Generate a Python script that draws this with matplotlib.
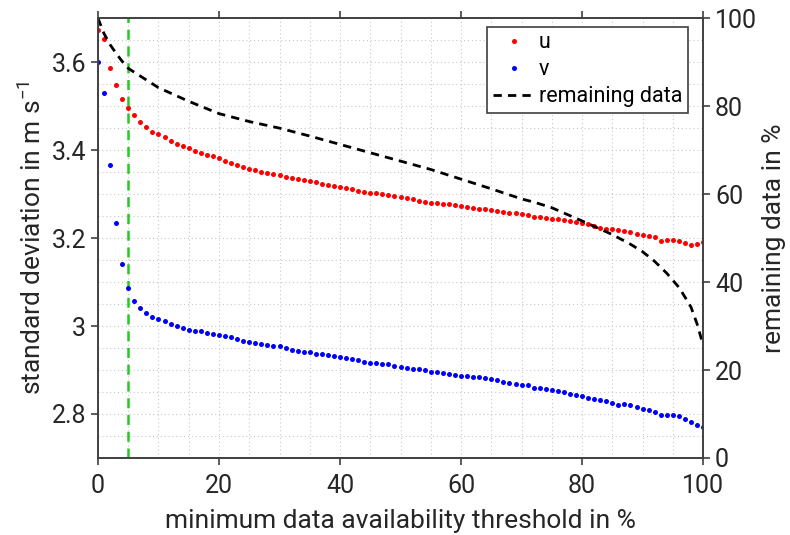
import numpy as np
import matplotlib
matplotlib.use('Agg')
import matplotlib.pyplot as plt
from matplotlib.ticker import MultipleLocator

plt.rcParams['font.family'] = ['Roboto', 'DejaVu Sans']
plt.rcParams['mathtext.default'] = 'regular'

# threshold in %
thr = np.arange(0, 101)

# std of u (red)
u_std = [3.673, 3.652, 3.587, 3.547, 3.517, 3.495, 3.480, 3.464, 3.452, 3.442,
         3.436, 3.429, 3.421, 3.415, 3.410, 3.405, 3.399, 3.394, 3.390, 3.386,
         3.383, 3.375, 3.371, 3.367, 3.362, 3.358, 3.355, 3.351, 3.347, 3.345,
         3.344, 3.339, 3.336, 3.335, 3.333, 3.329, 3.327, 3.323, 3.320, 3.318,
         3.316, 3.313, 3.311, 3.308, 3.304, 3.302, 3.302, 3.300, 3.298, 3.296,
         3.293, 3.292, 3.289, 3.285, 3.283, 3.280, 3.279, 3.278, 3.277, 3.276,
         3.273, 3.271, 3.268, 3.267, 3.266, 3.264, 3.262, 3.260, 3.258, 3.256,
         3.255, 3.252, 3.248, 3.248, 3.246, 3.243, 3.243, 3.241, 3.238, 3.236,
         3.234, 3.231, 3.227, 3.223, 3.221, 3.220, 3.218, 3.217, 3.213, 3.210,
         3.207, 3.205, 3.202, 3.194, 3.195, 3.195, 3.193, 3.189, 3.184, 3.186,
         3.192]

# std of v (blue)
v_std = [3.600, 3.529, 3.366, 3.235, 3.142, 3.087, 3.058, 3.042, 3.029, 3.021,
         3.016, 3.011, 3.005, 3.000, 2.995, 2.992, 2.989, 2.988, 2.985, 2.981,
         2.979, 2.977, 2.974, 2.970, 2.967, 2.963, 2.962, 2.960, 2.957, 2.955,
         2.954, 2.949, 2.946, 2.944, 2.942, 2.941, 2.937, 2.936, 2.935, 2.931,
         2.930, 2.928, 2.924, 2.923, 2.919, 2.917, 2.916, 2.913, 2.913, 2.910,
         2.906, 2.905, 2.903, 2.902, 2.899, 2.895, 2.895, 2.894, 2.892, 2.889,
         2.887, 2.886, 2.884, 2.883, 2.881, 2.880, 2.877, 2.873, 2.870, 2.869,
         2.866, 2.865, 2.859, 2.859, 2.856, 2.854, 2.853, 2.849, 2.846, 2.843,
         2.840, 2.837, 2.834, 2.831, 2.829, 2.826, 2.820, 2.822, 2.820, 2.816,
         2.812, 2.808, 2.804, 2.797, 2.797, 2.797, 2.795, 2.789, 2.782, 2.776,
         2.770]

# remaining data in %
rem_x = [0, 1, 2, 3, 4, 5, 10, 15, 20, 25, 30, 35, 40, 45, 50, 55, 60, 65,
         70, 72, 75, 80, 85, 88, 90, 92, 94, 96, 97, 98, 99, 100]
rem_y = [100, 96.5, 94.0, 92.0, 90.2, 88.6, 84.2, 81.1, 78.3, 76.5, 75.0,
         73.2, 71.3, 69.4, 67.5, 65.6, 63.4, 61.2, 58.9, 58.2, 56.9, 53.9,
         50.8, 48.6, 46.9, 44.7, 42.0, 38.8, 36.6, 34.3, 30.5, 25.7]

chosen = 5

fig = plt.figure(figsize=(7.9, 5.35), dpi=100)
ax = fig.add_axes([0.124, 0.144, 0.766, 0.822])

fs = 19
spc = '#404040'
tc = '#262626'

ax.plot([chosen, chosen], [2.7, 3.7], color='#1fcc1f', lw=1.8, dashes=(4, 2.7))
l1, = ax.plot(thr, u_std, 'o', color='#ff0000', ms=3.6, mew=0, label='u')
l2, = ax.plot(thr, v_std, 'o', color='#0000ff', ms=3.6, mew=0, label='v')
ax.set_xlim(0, 100)
ax.set_ylim(2.7, 3.7)
ax.xaxis.set_major_locator(MultipleLocator(20))
ax.xaxis.set_minor_locator(MultipleLocator(5))
ax.yaxis.set_major_locator(MultipleLocator(0.2))
ax.yaxis.set_minor_locator(MultipleLocator(0.05))
ax.yaxis.set_major_formatter(plt.FuncFormatter(lambda v, p: ('%.1f' % v).rstrip('0').rstrip('.')))
ax.grid(True, which='both', color='#c8c8c8', lw=0.8, dashes=(1, 2.5))
ax.tick_params(which='major', direction='out', length=5, width=1.2, color=spc,
               labelsize=fs - 1, top=True, labelcolor=tc)
ax.tick_params(axis='x', which='major', pad=6.5)
ax.tick_params(which='minor', length=0)
ax.set_xlabel('minimum data availability threshold in %', fontsize=fs, color=tc,
              labelpad=8)
ax.set_ylabel('standard deviation in m s$^{-1}$', fontsize=fs, color=tc)

ax2 = ax.twinx()
l3, = ax2.plot(rem_x, rem_y, color='black', lw=2, dashes=(3, 2.2), label='remaining data')
ax2.set_ylim(0, 100)
ax2.yaxis.set_major_locator(MultipleLocator(20))
ax2.tick_params(which='major', direction='out', length=5, width=1.2, color=spc,
                labelsize=fs - 1, labelcolor=tc)
ax2.set_ylabel('remaining data in %', fontsize=fs, color=tc)

for a in (ax, ax2):
    for s in a.spines.values():
        s.set_color(spc)
        s.set_linewidth(1.2)

leg = ax2.legend(handles=[l1, l2, l3], loc='upper right', bbox_to_anchor=(0.975, 0.98),
                 borderaxespad=0, fontsize=15.5, fancybox=False, framealpha=1,
                 edgecolor=spc, handlelength=2.0, handletextpad=0.15, labelspacing=0.28,
                 borderpad=0.25)
leg.get_frame().set_linewidth(1.2)

fig.savefig('out.png', dpi=100)
